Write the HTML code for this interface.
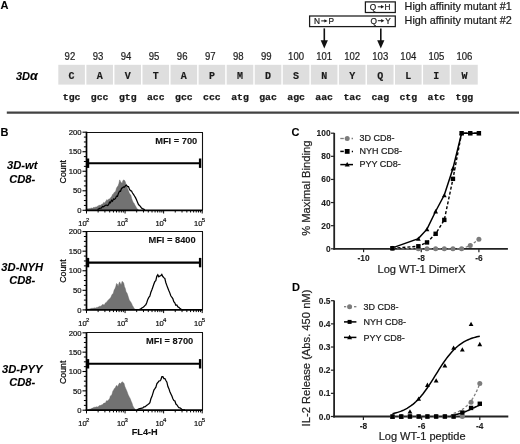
<!DOCTYPE html>
<html><head><meta charset="utf-8"><style>
html,body{margin:0;padding:0;background:#fff;}
body{width:520px;height:444px;overflow:hidden;font-family:"Liberation Sans", sans-serif;}
svg{display:block;filter:grayscale(1);}
</style></head><body>
<svg width="520" height="444" viewBox="0 0 520 444">
<rect width="520" height="444" fill="#fff"/>
<text x="0.60" y="9.30" font-size="11" font-weight="bold" font-style="normal" text-anchor="start" fill="#000" font-family='"Liberation Sans", sans-serif' stroke="#000" stroke-width="0.1" >A</text>
<rect x="365.4" y="1.9" width="29.9" height="10.6" fill="none" stroke="#1a1a1a" stroke-width="1.25"/>
<rect x="309.6" y="16.0" width="85.7" height="10.6" fill="none" stroke="#1a1a1a" stroke-width="1.25"/>
<text x="369.80" y="10.10" font-size="8.3" font-weight="normal" font-style="normal" text-anchor="start" fill="#1a1a1a" font-family='"Liberation Sans", sans-serif' stroke="#1a1a1a" stroke-width="0.22" >Q</text>
<line x1="377.80" y1="6.80" x2="381.60" y2="6.80" stroke="#1a1a1a" stroke-width="1.0" />
<path d="M381.00,5.10 L384.20,6.80 L381.00,8.50 Z" fill="#1a1a1a"/>
<text x="384.60" y="10.10" font-size="8.3" font-weight="normal" font-style="normal" text-anchor="start" fill="#1a1a1a" font-family='"Liberation Sans", sans-serif' stroke="#1a1a1a" stroke-width="0.22" >H</text>
<text x="314.00" y="24.20" font-size="8.3" font-weight="normal" font-style="normal" text-anchor="start" fill="#1a1a1a" font-family='"Liberation Sans", sans-serif' stroke="#1a1a1a" stroke-width="0.22" >N</text>
<line x1="321.20" y1="20.90" x2="325.00" y2="20.90" stroke="#1a1a1a" stroke-width="1.0" />
<path d="M324.40,19.20 L327.60,20.90 L324.40,22.60 Z" fill="#1a1a1a"/>
<text x="328.40" y="24.20" font-size="8.3" font-weight="normal" font-style="normal" text-anchor="start" fill="#1a1a1a" font-family='"Liberation Sans", sans-serif' stroke="#1a1a1a" stroke-width="0.22" >P</text>
<text x="370.40" y="24.00" font-size="8.3" font-weight="normal" font-style="normal" text-anchor="start" fill="#1a1a1a" font-family='"Liberation Sans", sans-serif' stroke="#1a1a1a" stroke-width="0.22" >Q</text>
<line x1="377.80" y1="20.70" x2="381.80" y2="20.70" stroke="#1a1a1a" stroke-width="1.0" />
<path d="M381.20,19.00 L384.40,20.70 L381.20,22.40 Z" fill="#1a1a1a"/>
<text x="385.30" y="24.00" font-size="8.3" font-weight="normal" font-style="normal" text-anchor="start" fill="#1a1a1a" font-family='"Liberation Sans", sans-serif' stroke="#1a1a1a" stroke-width="0.22" >Y</text>
<text x="404.60" y="10.10" font-size="10.8" font-weight="normal" font-style="normal" text-anchor="start" fill="#1a1a1a" font-family='"Liberation Sans", sans-serif' stroke="#1a1a1a" stroke-width="0.22" >High affinity mutant #1</text>
<text x="404.60" y="24.40" font-size="10.8" font-weight="normal" font-style="normal" text-anchor="start" fill="#1a1a1a" font-family='"Liberation Sans", sans-serif' stroke="#1a1a1a" stroke-width="0.22" >High affinity mutant #2</text>
<line x1="324.30" y1="28.40" x2="324.30" y2="42.00" stroke="#111" stroke-width="1.6" />
<path d="M320.70,40.2 L327.90,40.2 L324.30,48.4 Z" fill="#111"/>
<line x1="380.80" y1="28.40" x2="380.80" y2="42.00" stroke="#111" stroke-width="1.6" />
<path d="M377.20,40.2 L384.40,40.2 L380.80,48.4 Z" fill="#111"/>
<rect x="58.30" y="64.8" width="26.6" height="19.8" fill="#dedede"/>
<text x="0.00" y="0.00" font-size="10.4" font-weight="normal" font-style="normal" text-anchor="middle" fill="#1e1e1e" font-family='"Liberation Sans", sans-serif' stroke="#1e1e1e" stroke-width="0.22" transform="translate(69.90,59.8) scale(0.92,1.0)">92</text>
<text x="71.60" y="78.60" font-size="10" font-weight="bold" font-style="normal" text-anchor="middle" fill="#1a1a1a" font-family='"Liberation Mono", monospace' stroke="#1a1a1a" stroke-width="0.15" >C</text>
<text x="71.60" y="99.80" font-size="9.8" font-weight="bold" font-style="normal" text-anchor="middle" fill="#1a1a1a" font-family='"Liberation Mono", monospace' stroke="#1a1a1a" stroke-width="0.25" >tgc</text>
<rect x="86.36" y="64.8" width="26.6" height="19.8" fill="#dedede"/>
<text x="0.00" y="0.00" font-size="10.4" font-weight="normal" font-style="normal" text-anchor="middle" fill="#1e1e1e" font-family='"Liberation Sans", sans-serif' stroke="#1e1e1e" stroke-width="0.22" transform="translate(97.96,59.8) scale(0.92,1.0)">93</text>
<text x="99.66" y="78.60" font-size="10" font-weight="bold" font-style="normal" text-anchor="middle" fill="#1a1a1a" font-family='"Liberation Mono", monospace' stroke="#1a1a1a" stroke-width="0.15" >A</text>
<text x="99.66" y="99.80" font-size="9.8" font-weight="bold" font-style="normal" text-anchor="middle" fill="#1a1a1a" font-family='"Liberation Mono", monospace' stroke="#1a1a1a" stroke-width="0.25" >gcc</text>
<rect x="114.42" y="64.8" width="26.6" height="19.8" fill="#dedede"/>
<text x="0.00" y="0.00" font-size="10.4" font-weight="normal" font-style="normal" text-anchor="middle" fill="#1e1e1e" font-family='"Liberation Sans", sans-serif' stroke="#1e1e1e" stroke-width="0.22" transform="translate(126.02,59.8) scale(0.92,1.0)">94</text>
<text x="127.72" y="78.60" font-size="10" font-weight="bold" font-style="normal" text-anchor="middle" fill="#1a1a1a" font-family='"Liberation Mono", monospace' stroke="#1a1a1a" stroke-width="0.15" >V</text>
<text x="127.72" y="99.80" font-size="9.8" font-weight="bold" font-style="normal" text-anchor="middle" fill="#1a1a1a" font-family='"Liberation Mono", monospace' stroke="#1a1a1a" stroke-width="0.25" >gtg</text>
<rect x="142.48" y="64.8" width="26.6" height="19.8" fill="#dedede"/>
<text x="0.00" y="0.00" font-size="10.4" font-weight="normal" font-style="normal" text-anchor="middle" fill="#1e1e1e" font-family='"Liberation Sans", sans-serif' stroke="#1e1e1e" stroke-width="0.22" transform="translate(154.08,59.8) scale(0.92,1.0)">95</text>
<text x="155.78" y="78.60" font-size="10" font-weight="bold" font-style="normal" text-anchor="middle" fill="#1a1a1a" font-family='"Liberation Mono", monospace' stroke="#1a1a1a" stroke-width="0.15" >T</text>
<text x="155.78" y="99.80" font-size="9.8" font-weight="bold" font-style="normal" text-anchor="middle" fill="#1a1a1a" font-family='"Liberation Mono", monospace' stroke="#1a1a1a" stroke-width="0.25" >acc</text>
<rect x="170.54" y="64.8" width="26.6" height="19.8" fill="#dedede"/>
<text x="0.00" y="0.00" font-size="10.4" font-weight="normal" font-style="normal" text-anchor="middle" fill="#1e1e1e" font-family='"Liberation Sans", sans-serif' stroke="#1e1e1e" stroke-width="0.22" transform="translate(182.14,59.8) scale(0.92,1.0)">96</text>
<text x="183.84" y="78.60" font-size="10" font-weight="bold" font-style="normal" text-anchor="middle" fill="#1a1a1a" font-family='"Liberation Mono", monospace' stroke="#1a1a1a" stroke-width="0.15" >A</text>
<text x="183.84" y="99.80" font-size="9.8" font-weight="bold" font-style="normal" text-anchor="middle" fill="#1a1a1a" font-family='"Liberation Mono", monospace' stroke="#1a1a1a" stroke-width="0.25" >gcc</text>
<rect x="198.60" y="64.8" width="26.6" height="19.8" fill="#dedede"/>
<text x="0.00" y="0.00" font-size="10.4" font-weight="normal" font-style="normal" text-anchor="middle" fill="#1e1e1e" font-family='"Liberation Sans", sans-serif' stroke="#1e1e1e" stroke-width="0.22" transform="translate(210.20,59.8) scale(0.92,1.0)">97</text>
<text x="211.90" y="78.60" font-size="10" font-weight="bold" font-style="normal" text-anchor="middle" fill="#1a1a1a" font-family='"Liberation Mono", monospace' stroke="#1a1a1a" stroke-width="0.15" >P</text>
<text x="211.90" y="99.80" font-size="9.8" font-weight="bold" font-style="normal" text-anchor="middle" fill="#1a1a1a" font-family='"Liberation Mono", monospace' stroke="#1a1a1a" stroke-width="0.25" >ccc</text>
<rect x="226.66" y="64.8" width="26.6" height="19.8" fill="#dedede"/>
<text x="0.00" y="0.00" font-size="10.4" font-weight="normal" font-style="normal" text-anchor="middle" fill="#1e1e1e" font-family='"Liberation Sans", sans-serif' stroke="#1e1e1e" stroke-width="0.22" transform="translate(238.26,59.8) scale(0.92,1.0)">98</text>
<text x="239.96" y="78.60" font-size="10" font-weight="bold" font-style="normal" text-anchor="middle" fill="#1a1a1a" font-family='"Liberation Mono", monospace' stroke="#1a1a1a" stroke-width="0.15" >M</text>
<text x="239.96" y="99.80" font-size="9.8" font-weight="bold" font-style="normal" text-anchor="middle" fill="#1a1a1a" font-family='"Liberation Mono", monospace' stroke="#1a1a1a" stroke-width="0.25" >atg</text>
<rect x="254.72" y="64.8" width="26.6" height="19.8" fill="#dedede"/>
<text x="0.00" y="0.00" font-size="10.4" font-weight="normal" font-style="normal" text-anchor="middle" fill="#1e1e1e" font-family='"Liberation Sans", sans-serif' stroke="#1e1e1e" stroke-width="0.22" transform="translate(266.32,59.8) scale(0.92,1.0)">99</text>
<text x="268.02" y="78.60" font-size="10" font-weight="bold" font-style="normal" text-anchor="middle" fill="#1a1a1a" font-family='"Liberation Mono", monospace' stroke="#1a1a1a" stroke-width="0.15" >D</text>
<text x="268.02" y="99.80" font-size="9.8" font-weight="bold" font-style="normal" text-anchor="middle" fill="#1a1a1a" font-family='"Liberation Mono", monospace' stroke="#1a1a1a" stroke-width="0.25" >gac</text>
<rect x="282.78" y="64.8" width="26.6" height="19.8" fill="#dedede"/>
<text x="0.00" y="0.00" font-size="10.4" font-weight="normal" font-style="normal" text-anchor="middle" fill="#1e1e1e" font-family='"Liberation Sans", sans-serif' stroke="#1e1e1e" stroke-width="0.22" transform="translate(296.08,59.8) scale(0.92,1.0)">100</text>
<text x="296.08" y="78.60" font-size="10" font-weight="bold" font-style="normal" text-anchor="middle" fill="#1a1a1a" font-family='"Liberation Mono", monospace' stroke="#1a1a1a" stroke-width="0.15" >S</text>
<text x="296.08" y="99.80" font-size="9.8" font-weight="bold" font-style="normal" text-anchor="middle" fill="#1a1a1a" font-family='"Liberation Mono", monospace' stroke="#1a1a1a" stroke-width="0.25" >agc</text>
<rect x="310.84" y="64.8" width="26.6" height="19.8" fill="#dedede"/>
<text x="0.00" y="0.00" font-size="10.4" font-weight="normal" font-style="normal" text-anchor="middle" fill="#1e1e1e" font-family='"Liberation Sans", sans-serif' stroke="#1e1e1e" stroke-width="0.22" transform="translate(324.14,59.8) scale(0.92,1.0)">101</text>
<text x="324.14" y="78.60" font-size="10" font-weight="bold" font-style="normal" text-anchor="middle" fill="#1a1a1a" font-family='"Liberation Mono", monospace' stroke="#1a1a1a" stroke-width="0.15" >N</text>
<text x="324.14" y="99.80" font-size="9.8" font-weight="bold" font-style="normal" text-anchor="middle" fill="#1a1a1a" font-family='"Liberation Mono", monospace' stroke="#1a1a1a" stroke-width="0.25" >aac</text>
<rect x="338.90" y="64.8" width="26.6" height="19.8" fill="#dedede"/>
<text x="0.00" y="0.00" font-size="10.4" font-weight="normal" font-style="normal" text-anchor="middle" fill="#1e1e1e" font-family='"Liberation Sans", sans-serif' stroke="#1e1e1e" stroke-width="0.22" transform="translate(352.20,59.8) scale(0.92,1.0)">102</text>
<text x="352.20" y="78.60" font-size="10" font-weight="bold" font-style="normal" text-anchor="middle" fill="#1a1a1a" font-family='"Liberation Mono", monospace' stroke="#1a1a1a" stroke-width="0.15" >Y</text>
<text x="352.20" y="99.80" font-size="9.8" font-weight="bold" font-style="normal" text-anchor="middle" fill="#1a1a1a" font-family='"Liberation Mono", monospace' stroke="#1a1a1a" stroke-width="0.25" >tac</text>
<rect x="366.96" y="64.8" width="26.6" height="19.8" fill="#dedede"/>
<text x="0.00" y="0.00" font-size="10.4" font-weight="normal" font-style="normal" text-anchor="middle" fill="#1e1e1e" font-family='"Liberation Sans", sans-serif' stroke="#1e1e1e" stroke-width="0.22" transform="translate(380.26,59.8) scale(0.92,1.0)">103</text>
<text x="380.26" y="78.60" font-size="10" font-weight="bold" font-style="normal" text-anchor="middle" fill="#1a1a1a" font-family='"Liberation Mono", monospace' stroke="#1a1a1a" stroke-width="0.15" >Q</text>
<text x="380.26" y="99.80" font-size="9.8" font-weight="bold" font-style="normal" text-anchor="middle" fill="#1a1a1a" font-family='"Liberation Mono", monospace' stroke="#1a1a1a" stroke-width="0.25" >cag</text>
<rect x="395.02" y="64.8" width="26.6" height="19.8" fill="#dedede"/>
<text x="0.00" y="0.00" font-size="10.4" font-weight="normal" font-style="normal" text-anchor="middle" fill="#1e1e1e" font-family='"Liberation Sans", sans-serif' stroke="#1e1e1e" stroke-width="0.22" transform="translate(408.32,59.8) scale(0.92,1.0)">104</text>
<text x="408.32" y="78.60" font-size="10" font-weight="bold" font-style="normal" text-anchor="middle" fill="#1a1a1a" font-family='"Liberation Mono", monospace' stroke="#1a1a1a" stroke-width="0.15" >L</text>
<text x="408.32" y="99.80" font-size="9.8" font-weight="bold" font-style="normal" text-anchor="middle" fill="#1a1a1a" font-family='"Liberation Mono", monospace' stroke="#1a1a1a" stroke-width="0.25" >ctg</text>
<rect x="423.08" y="64.8" width="26.6" height="19.8" fill="#dedede"/>
<text x="0.00" y="0.00" font-size="10.4" font-weight="normal" font-style="normal" text-anchor="middle" fill="#1e1e1e" font-family='"Liberation Sans", sans-serif' stroke="#1e1e1e" stroke-width="0.22" transform="translate(436.38,59.8) scale(0.92,1.0)">105</text>
<text x="436.38" y="78.60" font-size="10" font-weight="bold" font-style="normal" text-anchor="middle" fill="#1a1a1a" font-family='"Liberation Mono", monospace' stroke="#1a1a1a" stroke-width="0.15" >I</text>
<text x="436.38" y="99.80" font-size="9.8" font-weight="bold" font-style="normal" text-anchor="middle" fill="#1a1a1a" font-family='"Liberation Mono", monospace' stroke="#1a1a1a" stroke-width="0.25" >atc</text>
<rect x="451.14" y="64.8" width="26.6" height="19.8" fill="#dedede"/>
<text x="0.00" y="0.00" font-size="10.4" font-weight="normal" font-style="normal" text-anchor="middle" fill="#1e1e1e" font-family='"Liberation Sans", sans-serif' stroke="#1e1e1e" stroke-width="0.22" transform="translate(464.44,59.8) scale(0.92,1.0)">106</text>
<text x="464.44" y="78.60" font-size="10" font-weight="bold" font-style="normal" text-anchor="middle" fill="#1a1a1a" font-family='"Liberation Mono", monospace' stroke="#1a1a1a" stroke-width="0.15" >W</text>
<text x="464.44" y="99.80" font-size="9.8" font-weight="bold" font-style="normal" text-anchor="middle" fill="#1a1a1a" font-family='"Liberation Mono", monospace' stroke="#1a1a1a" stroke-width="0.25" >tgg</text>
<text x="16.00" y="79.60" font-size="11" font-weight="bold" font-style="italic" text-anchor="start" fill="#000" font-family='"Liberation Sans", sans-serif' stroke="#000" stroke-width="0.1" >3D<tspan font-size="12.5">α</tspan></text>
<line x1="6.80" y1="112.60" x2="519.00" y2="112.60" stroke="#424242" stroke-width="2.3" />
<text x="0.40" y="136.20" font-size="11" font-weight="bold" font-style="normal" text-anchor="start" fill="#000" font-family='"Liberation Sans", sans-serif' stroke="#000" stroke-width="0.1" >B</text>
<text x="22.20" y="169.40" font-size="11.2" font-weight="bold" font-style="italic" text-anchor="middle" fill="#000" font-family='"Liberation Sans", sans-serif' stroke="#000" stroke-width="0.1" >3D-wt</text>
<text x="22.20" y="182.90" font-size="11.2" font-weight="bold" font-style="italic" text-anchor="middle" fill="#000" font-family='"Liberation Sans", sans-serif' stroke="#000" stroke-width="0.1" >CD8-</text>
<text x="0.00" y="0.00" font-size="8.8" font-weight="normal" font-style="normal" text-anchor="middle" fill="#000" font-family='"Liberation Sans", sans-serif' stroke="#000" stroke-width="0.22" transform="translate(66.3,171.70) rotate(-90)">Count</text>
<path d="M86.90,208.81 L87.70,208.81 L88.50,208.63 L89.30,208.62 L90.10,208.52 L90.90,208.14 L91.70,207.99 L92.50,208.22 L93.30,207.60 L94.10,207.29 L94.90,207.58 L95.70,206.90 L96.50,206.95 L97.30,206.35 L98.10,206.14 L98.90,205.17 L99.70,205.35 L100.50,205.27 L101.30,204.39 L102.10,204.33 L102.90,203.83 L103.70,202.34 L104.50,202.99 L105.30,202.02 L106.10,200.78 L106.90,199.59 L107.70,200.61 L108.50,199.17 L109.30,199.01 L110.10,198.62 L110.90,197.22 L111.70,196.56 L112.50,194.44 L113.30,194.18 L114.10,192.40 L114.90,192.31 L115.70,190.93 L116.50,188.08 L117.30,186.86 L118.10,185.73 L118.90,183.38 L119.70,179.87 L120.50,181.45 L121.30,182.85 L122.10,183.17 L122.90,180.57 L123.70,179.95 L124.50,180.35 L125.30,181.80 L126.10,184.65 L126.90,186.66 L127.70,189.08 L128.50,190.86 L129.30,193.05 L130.10,194.33 L130.90,195.25 L131.70,198.58 L132.50,200.73 L133.30,202.46 L134.10,203.36 L134.90,205.11 L135.70,206.13 L136.50,207.99 L137.30,208.71 L138.10,209.57 L138.75,210.30 L138.75,210.30 L86.90,210.30 Z" fill="#727272" stroke="#666" stroke-width="0.4"/>
<path d="M97.50,209.60 L98.50,208.97 L99.50,208.27 L100.50,208.25 L101.50,207.90 L102.50,206.45 L103.50,206.89 L104.50,206.02 L105.50,205.24 L106.50,205.05 L107.50,205.46 L108.50,204.87 L109.50,202.19 L110.50,202.66 L111.50,200.30 L112.50,201.17 L113.50,199.04 L114.50,199.35 L115.50,198.49 L116.50,196.13 L117.50,196.30 L118.50,193.17 L119.50,191.23 L120.50,191.26 L121.50,188.47 L122.50,187.66 L123.50,186.97 L124.50,187.05 L125.50,185.70 L126.50,185.01 L127.50,186.56 L128.50,186.52 L129.50,189.36 L130.50,190.65 L131.50,191.04 L132.50,193.00 L133.50,194.41 L134.50,195.99 L135.50,197.63 L136.50,199.79 L137.50,202.21 L138.50,204.59 L139.50,205.39 L140.50,206.67 L141.50,207.93 L142.50,208.62 L143.50,209.14 L144.50,209.67 L145.00,209.90" fill="none" stroke="#000" stroke-width="1.25"/>
<line x1="86.50" y1="132.50" x2="203.00" y2="132.50" stroke="#111" stroke-width="1.1" />
<line x1="202.50" y1="132.50" x2="202.50" y2="210.30" stroke="#111" stroke-width="1.1" />
<line x1="86.50" y1="131.70" x2="86.50" y2="211.00" stroke="#000" stroke-width="1.7" />
<line x1="85.70" y1="210.30" x2="202.70" y2="210.30" stroke="#000" stroke-width="1.7" />
<line x1="82.50" y1="210.30" x2="86.50" y2="210.30" stroke="#000" stroke-width="1.1" />
<text x="81.50" y="213.00" font-size="7.7" font-weight="normal" font-style="normal" text-anchor="end" fill="#111" font-family='"Liberation Sans", sans-serif' stroke="#111" stroke-width="0.22" >0</text>
<line x1="83.90" y1="205.42" x2="86.50" y2="205.42" stroke="#000" stroke-width="1.0" />
<line x1="83.90" y1="200.54" x2="86.50" y2="200.54" stroke="#000" stroke-width="1.0" />
<line x1="83.90" y1="195.66" x2="86.50" y2="195.66" stroke="#000" stroke-width="1.0" />
<line x1="82.50" y1="190.78" x2="86.50" y2="190.78" stroke="#000" stroke-width="1.1" />
<text x="81.50" y="193.47" font-size="7.7" font-weight="normal" font-style="normal" text-anchor="end" fill="#111" font-family='"Liberation Sans", sans-serif' stroke="#111" stroke-width="0.22" >50</text>
<line x1="83.90" y1="185.89" x2="86.50" y2="185.89" stroke="#000" stroke-width="1.0" />
<line x1="83.90" y1="181.01" x2="86.50" y2="181.01" stroke="#000" stroke-width="1.0" />
<line x1="83.90" y1="176.13" x2="86.50" y2="176.13" stroke="#000" stroke-width="1.0" />
<line x1="82.50" y1="171.25" x2="86.50" y2="171.25" stroke="#000" stroke-width="1.1" />
<text x="81.50" y="173.95" font-size="7.7" font-weight="normal" font-style="normal" text-anchor="end" fill="#111" font-family='"Liberation Sans", sans-serif' stroke="#111" stroke-width="0.22" >100</text>
<line x1="83.90" y1="166.37" x2="86.50" y2="166.37" stroke="#000" stroke-width="1.0" />
<line x1="83.90" y1="161.49" x2="86.50" y2="161.49" stroke="#000" stroke-width="1.0" />
<line x1="83.90" y1="156.61" x2="86.50" y2="156.61" stroke="#000" stroke-width="1.0" />
<line x1="82.50" y1="151.72" x2="86.50" y2="151.72" stroke="#000" stroke-width="1.1" />
<text x="81.50" y="154.42" font-size="7.7" font-weight="normal" font-style="normal" text-anchor="end" fill="#111" font-family='"Liberation Sans", sans-serif' stroke="#111" stroke-width="0.22" >150</text>
<line x1="83.90" y1="146.84" x2="86.50" y2="146.84" stroke="#000" stroke-width="1.0" />
<line x1="83.90" y1="141.96" x2="86.50" y2="141.96" stroke="#000" stroke-width="1.0" />
<line x1="83.90" y1="137.08" x2="86.50" y2="137.08" stroke="#000" stroke-width="1.0" />
<line x1="82.50" y1="132.20" x2="86.50" y2="132.20" stroke="#000" stroke-width="1.1" />
<text x="81.50" y="134.90" font-size="7.7" font-weight="normal" font-style="normal" text-anchor="end" fill="#111" font-family='"Liberation Sans", sans-serif' stroke="#111" stroke-width="0.22" >200</text>
<line x1="86.50" y1="210.30" x2="86.50" y2="213.50" stroke="#000" stroke-width="1.0" />
<line x1="98.11" y1="210.30" x2="98.11" y2="212.50" stroke="#000" stroke-width="1.0" />
<line x1="104.90" y1="210.30" x2="104.90" y2="212.50" stroke="#000" stroke-width="1.0" />
<line x1="109.72" y1="210.30" x2="109.72" y2="212.50" stroke="#000" stroke-width="1.0" />
<line x1="113.46" y1="210.30" x2="113.46" y2="212.50" stroke="#000" stroke-width="1.0" />
<line x1="116.51" y1="210.30" x2="116.51" y2="212.50" stroke="#000" stroke-width="1.0" />
<line x1="119.09" y1="210.30" x2="119.09" y2="212.50" stroke="#000" stroke-width="1.0" />
<line x1="121.33" y1="210.30" x2="121.33" y2="212.50" stroke="#000" stroke-width="1.0" />
<line x1="123.30" y1="210.30" x2="123.30" y2="212.50" stroke="#000" stroke-width="1.0" />
<line x1="125.07" y1="210.30" x2="125.07" y2="213.50" stroke="#000" stroke-width="1.0" />
<line x1="136.68" y1="210.30" x2="136.68" y2="212.50" stroke="#000" stroke-width="1.0" />
<line x1="143.47" y1="210.30" x2="143.47" y2="212.50" stroke="#000" stroke-width="1.0" />
<line x1="148.29" y1="210.30" x2="148.29" y2="212.50" stroke="#000" stroke-width="1.0" />
<line x1="152.02" y1="210.30" x2="152.02" y2="212.50" stroke="#000" stroke-width="1.0" />
<line x1="155.08" y1="210.30" x2="155.08" y2="212.50" stroke="#000" stroke-width="1.0" />
<line x1="157.66" y1="210.30" x2="157.66" y2="212.50" stroke="#000" stroke-width="1.0" />
<line x1="159.90" y1="210.30" x2="159.90" y2="212.50" stroke="#000" stroke-width="1.0" />
<line x1="161.87" y1="210.30" x2="161.87" y2="212.50" stroke="#000" stroke-width="1.0" />
<line x1="163.63" y1="210.30" x2="163.63" y2="213.50" stroke="#000" stroke-width="1.0" />
<line x1="175.24" y1="210.30" x2="175.24" y2="212.50" stroke="#000" stroke-width="1.0" />
<line x1="182.03" y1="210.30" x2="182.03" y2="212.50" stroke="#000" stroke-width="1.0" />
<line x1="186.85" y1="210.30" x2="186.85" y2="212.50" stroke="#000" stroke-width="1.0" />
<line x1="190.59" y1="210.30" x2="190.59" y2="212.50" stroke="#000" stroke-width="1.0" />
<line x1="193.64" y1="210.30" x2="193.64" y2="212.50" stroke="#000" stroke-width="1.0" />
<line x1="196.23" y1="210.30" x2="196.23" y2="212.50" stroke="#000" stroke-width="1.0" />
<line x1="198.46" y1="210.30" x2="198.46" y2="212.50" stroke="#000" stroke-width="1.0" />
<line x1="200.44" y1="210.30" x2="200.44" y2="212.50" stroke="#000" stroke-width="1.0" />
<line x1="202.20" y1="210.30" x2="202.20" y2="213.50" stroke="#000" stroke-width="1.0" />
<text x="82.50" y="225.90" font-size="7.5" font-weight="normal" font-style="normal" text-anchor="middle" fill="#111" font-family='"Liberation Sans", sans-serif' stroke="#111" stroke-width="0.22" >10</text>
<text x="87.60" y="222.30" font-size="6.0" font-weight="normal" font-style="normal" text-anchor="middle" fill="#111" font-family='"Liberation Sans", sans-serif' stroke="#111" stroke-width="0.22" >2</text>
<text x="121.07" y="225.90" font-size="7.5" font-weight="normal" font-style="normal" text-anchor="middle" fill="#111" font-family='"Liberation Sans", sans-serif' stroke="#111" stroke-width="0.22" >10</text>
<text x="126.17" y="222.30" font-size="6.0" font-weight="normal" font-style="normal" text-anchor="middle" fill="#111" font-family='"Liberation Sans", sans-serif' stroke="#111" stroke-width="0.22" >3</text>
<text x="159.63" y="225.90" font-size="7.5" font-weight="normal" font-style="normal" text-anchor="middle" fill="#111" font-family='"Liberation Sans", sans-serif' stroke="#111" stroke-width="0.22" >10</text>
<text x="164.73" y="222.30" font-size="6.0" font-weight="normal" font-style="normal" text-anchor="middle" fill="#111" font-family='"Liberation Sans", sans-serif' stroke="#111" stroke-width="0.22" >4</text>
<text x="198.20" y="225.90" font-size="7.5" font-weight="normal" font-style="normal" text-anchor="middle" fill="#111" font-family='"Liberation Sans", sans-serif' stroke="#111" stroke-width="0.22" >10</text>
<text x="203.30" y="222.30" font-size="6.0" font-weight="normal" font-style="normal" text-anchor="middle" fill="#111" font-family='"Liberation Sans", sans-serif' stroke="#111" stroke-width="0.22" >5</text>
<line x1="87.70" y1="163.20" x2="200.20" y2="163.20" stroke="#000" stroke-width="2.1" />
<line x1="88.00" y1="158.50" x2="88.00" y2="167.90" stroke="#000" stroke-width="2.4" />
<line x1="200.10" y1="158.50" x2="200.10" y2="167.90" stroke="#000" stroke-width="2.4" />
<text x="197.30" y="143.50" font-size="9.3" font-weight="bold" font-style="normal" text-anchor="end" fill="#111" font-family='"Liberation Sans", sans-serif' stroke="#111" stroke-width="0.1" >MFI = 700</text>
<text x="22.20" y="270.90" font-size="11.2" font-weight="bold" font-style="italic" text-anchor="middle" fill="#000" font-family='"Liberation Sans", sans-serif' stroke="#000" stroke-width="0.1" >3D-NYH</text>
<text x="22.20" y="284.30" font-size="11.2" font-weight="bold" font-style="italic" text-anchor="middle" fill="#000" font-family='"Liberation Sans", sans-serif' stroke="#000" stroke-width="0.1" >CD8-</text>
<text x="0.00" y="0.00" font-size="8.8" font-weight="normal" font-style="normal" text-anchor="middle" fill="#000" font-family='"Liberation Sans", sans-serif' stroke="#000" stroke-width="0.22" transform="translate(66.3,271.10) rotate(-90)">Count</text>
<path d="M86.90,309.20 L87.70,309.07 L88.50,308.95 L89.30,308.95 L90.10,308.71 L90.90,308.59 L91.70,308.27 L92.50,308.29 L93.30,308.23 L94.10,307.86 L94.90,308.01 L95.70,307.89 L96.50,307.46 L97.30,307.44 L98.10,306.99 L98.90,306.82 L99.70,306.20 L100.50,306.19 L101.30,305.90 L102.10,304.75 L102.90,304.41 L103.70,304.85 L104.50,304.78 L105.30,302.91 L106.10,302.45 L106.90,301.93 L107.70,300.60 L108.50,299.90 L109.30,299.01 L110.10,298.26 L110.90,297.28 L111.70,295.26 L112.50,293.98 L113.30,293.34 L114.10,290.06 L114.90,288.78 L115.70,286.74 L116.50,283.51 L117.30,283.99 L118.10,286.38 L118.90,283.40 L119.70,281.87 L120.50,283.91 L121.30,284.50 L122.10,281.25 L122.90,282.06 L123.70,283.02 L124.50,286.65 L125.30,288.49 L126.10,291.95 L126.90,292.72 L127.70,295.02 L128.50,297.62 L129.30,300.05 L130.10,301.16 L130.90,302.26 L131.70,303.64 L132.50,305.65 L133.30,306.83 L134.10,308.49 L134.90,308.97 L135.70,309.57 L136.00,309.80 L136.00,309.90 L86.90,309.90 Z" fill="#727272" stroke="#666" stroke-width="0.4"/>
<path d="M138.80,309.80 L139.80,309.26 L140.80,308.85 L141.80,308.01 L142.80,307.42 L143.80,306.83 L144.80,305.59 L145.80,304.83 L146.80,302.42 L147.80,299.40 L148.80,297.40 L149.80,296.29 L150.80,292.51 L151.80,290.02 L152.80,287.24 L153.80,284.28 L154.80,281.66 L155.80,280.64 L156.80,276.31 L157.80,274.84 L158.80,276.76 L159.80,275.97 L160.80,275.60 L161.80,274.46 L162.80,276.52 L163.80,277.61 L164.80,278.43 L165.80,282.45 L166.80,285.37 L167.80,287.90 L168.80,290.50 L169.80,292.87 L170.80,295.75 L171.80,297.24 L172.80,298.62 L173.80,301.76 L174.80,302.87 L175.80,305.25 L176.80,304.92 L177.80,306.85 L178.80,307.38 L179.80,308.30 L180.80,309.00 L181.80,309.33 L182.80,309.54 L183.80,309.76 L184.00,309.80" fill="none" stroke="#000" stroke-width="1.25"/>
<line x1="86.50" y1="231.50" x2="203.00" y2="231.50" stroke="#111" stroke-width="1.1" />
<line x1="202.50" y1="231.50" x2="202.50" y2="309.90" stroke="#111" stroke-width="1.1" />
<line x1="86.50" y1="231.10" x2="86.50" y2="310.60" stroke="#000" stroke-width="1.7" />
<line x1="85.70" y1="309.90" x2="202.70" y2="309.90" stroke="#000" stroke-width="1.7" />
<line x1="82.50" y1="309.90" x2="86.50" y2="309.90" stroke="#000" stroke-width="1.1" />
<text x="81.50" y="312.60" font-size="7.7" font-weight="normal" font-style="normal" text-anchor="end" fill="#111" font-family='"Liberation Sans", sans-serif' stroke="#111" stroke-width="0.22" >0</text>
<line x1="83.90" y1="305.01" x2="86.50" y2="305.01" stroke="#000" stroke-width="1.0" />
<line x1="83.90" y1="300.11" x2="86.50" y2="300.11" stroke="#000" stroke-width="1.0" />
<line x1="83.90" y1="295.22" x2="86.50" y2="295.22" stroke="#000" stroke-width="1.0" />
<line x1="82.50" y1="290.32" x2="86.50" y2="290.32" stroke="#000" stroke-width="1.1" />
<text x="81.50" y="293.02" font-size="7.7" font-weight="normal" font-style="normal" text-anchor="end" fill="#111" font-family='"Liberation Sans", sans-serif' stroke="#111" stroke-width="0.22" >50</text>
<line x1="83.90" y1="285.43" x2="86.50" y2="285.43" stroke="#000" stroke-width="1.0" />
<line x1="83.90" y1="280.54" x2="86.50" y2="280.54" stroke="#000" stroke-width="1.0" />
<line x1="83.90" y1="275.64" x2="86.50" y2="275.64" stroke="#000" stroke-width="1.0" />
<line x1="82.50" y1="270.75" x2="86.50" y2="270.75" stroke="#000" stroke-width="1.1" />
<text x="81.50" y="273.45" font-size="7.7" font-weight="normal" font-style="normal" text-anchor="end" fill="#111" font-family='"Liberation Sans", sans-serif' stroke="#111" stroke-width="0.22" >100</text>
<line x1="83.90" y1="265.86" x2="86.50" y2="265.86" stroke="#000" stroke-width="1.0" />
<line x1="83.90" y1="260.96" x2="86.50" y2="260.96" stroke="#000" stroke-width="1.0" />
<line x1="83.90" y1="256.07" x2="86.50" y2="256.07" stroke="#000" stroke-width="1.0" />
<line x1="82.50" y1="251.17" x2="86.50" y2="251.17" stroke="#000" stroke-width="1.1" />
<text x="81.50" y="253.87" font-size="7.7" font-weight="normal" font-style="normal" text-anchor="end" fill="#111" font-family='"Liberation Sans", sans-serif' stroke="#111" stroke-width="0.22" >150</text>
<line x1="83.90" y1="246.28" x2="86.50" y2="246.28" stroke="#000" stroke-width="1.0" />
<line x1="83.90" y1="241.39" x2="86.50" y2="241.39" stroke="#000" stroke-width="1.0" />
<line x1="83.90" y1="236.49" x2="86.50" y2="236.49" stroke="#000" stroke-width="1.0" />
<line x1="82.50" y1="231.60" x2="86.50" y2="231.60" stroke="#000" stroke-width="1.1" />
<text x="81.50" y="234.30" font-size="7.7" font-weight="normal" font-style="normal" text-anchor="end" fill="#111" font-family='"Liberation Sans", sans-serif' stroke="#111" stroke-width="0.22" >200</text>
<line x1="86.50" y1="309.90" x2="86.50" y2="313.10" stroke="#000" stroke-width="1.0" />
<line x1="98.11" y1="309.90" x2="98.11" y2="312.10" stroke="#000" stroke-width="1.0" />
<line x1="104.90" y1="309.90" x2="104.90" y2="312.10" stroke="#000" stroke-width="1.0" />
<line x1="109.72" y1="309.90" x2="109.72" y2="312.10" stroke="#000" stroke-width="1.0" />
<line x1="113.46" y1="309.90" x2="113.46" y2="312.10" stroke="#000" stroke-width="1.0" />
<line x1="116.51" y1="309.90" x2="116.51" y2="312.10" stroke="#000" stroke-width="1.0" />
<line x1="119.09" y1="309.90" x2="119.09" y2="312.10" stroke="#000" stroke-width="1.0" />
<line x1="121.33" y1="309.90" x2="121.33" y2="312.10" stroke="#000" stroke-width="1.0" />
<line x1="123.30" y1="309.90" x2="123.30" y2="312.10" stroke="#000" stroke-width="1.0" />
<line x1="125.07" y1="309.90" x2="125.07" y2="313.10" stroke="#000" stroke-width="1.0" />
<line x1="136.68" y1="309.90" x2="136.68" y2="312.10" stroke="#000" stroke-width="1.0" />
<line x1="143.47" y1="309.90" x2="143.47" y2="312.10" stroke="#000" stroke-width="1.0" />
<line x1="148.29" y1="309.90" x2="148.29" y2="312.10" stroke="#000" stroke-width="1.0" />
<line x1="152.02" y1="309.90" x2="152.02" y2="312.10" stroke="#000" stroke-width="1.0" />
<line x1="155.08" y1="309.90" x2="155.08" y2="312.10" stroke="#000" stroke-width="1.0" />
<line x1="157.66" y1="309.90" x2="157.66" y2="312.10" stroke="#000" stroke-width="1.0" />
<line x1="159.90" y1="309.90" x2="159.90" y2="312.10" stroke="#000" stroke-width="1.0" />
<line x1="161.87" y1="309.90" x2="161.87" y2="312.10" stroke="#000" stroke-width="1.0" />
<line x1="163.63" y1="309.90" x2="163.63" y2="313.10" stroke="#000" stroke-width="1.0" />
<line x1="175.24" y1="309.90" x2="175.24" y2="312.10" stroke="#000" stroke-width="1.0" />
<line x1="182.03" y1="309.90" x2="182.03" y2="312.10" stroke="#000" stroke-width="1.0" />
<line x1="186.85" y1="309.90" x2="186.85" y2="312.10" stroke="#000" stroke-width="1.0" />
<line x1="190.59" y1="309.90" x2="190.59" y2="312.10" stroke="#000" stroke-width="1.0" />
<line x1="193.64" y1="309.90" x2="193.64" y2="312.10" stroke="#000" stroke-width="1.0" />
<line x1="196.23" y1="309.90" x2="196.23" y2="312.10" stroke="#000" stroke-width="1.0" />
<line x1="198.46" y1="309.90" x2="198.46" y2="312.10" stroke="#000" stroke-width="1.0" />
<line x1="200.44" y1="309.90" x2="200.44" y2="312.10" stroke="#000" stroke-width="1.0" />
<line x1="202.20" y1="309.90" x2="202.20" y2="313.10" stroke="#000" stroke-width="1.0" />
<text x="82.50" y="325.50" font-size="7.5" font-weight="normal" font-style="normal" text-anchor="middle" fill="#111" font-family='"Liberation Sans", sans-serif' stroke="#111" stroke-width="0.22" >10</text>
<text x="87.60" y="321.90" font-size="6.0" font-weight="normal" font-style="normal" text-anchor="middle" fill="#111" font-family='"Liberation Sans", sans-serif' stroke="#111" stroke-width="0.22" >2</text>
<text x="121.07" y="325.50" font-size="7.5" font-weight="normal" font-style="normal" text-anchor="middle" fill="#111" font-family='"Liberation Sans", sans-serif' stroke="#111" stroke-width="0.22" >10</text>
<text x="126.17" y="321.90" font-size="6.0" font-weight="normal" font-style="normal" text-anchor="middle" fill="#111" font-family='"Liberation Sans", sans-serif' stroke="#111" stroke-width="0.22" >3</text>
<text x="159.63" y="325.50" font-size="7.5" font-weight="normal" font-style="normal" text-anchor="middle" fill="#111" font-family='"Liberation Sans", sans-serif' stroke="#111" stroke-width="0.22" >10</text>
<text x="164.73" y="321.90" font-size="6.0" font-weight="normal" font-style="normal" text-anchor="middle" fill="#111" font-family='"Liberation Sans", sans-serif' stroke="#111" stroke-width="0.22" >4</text>
<text x="198.20" y="325.50" font-size="7.5" font-weight="normal" font-style="normal" text-anchor="middle" fill="#111" font-family='"Liberation Sans", sans-serif' stroke="#111" stroke-width="0.22" >10</text>
<text x="203.30" y="321.90" font-size="6.0" font-weight="normal" font-style="normal" text-anchor="middle" fill="#111" font-family='"Liberation Sans", sans-serif' stroke="#111" stroke-width="0.22" >5</text>
<line x1="87.70" y1="262.60" x2="200.20" y2="262.60" stroke="#000" stroke-width="2.1" />
<line x1="88.00" y1="257.90" x2="88.00" y2="267.30" stroke="#000" stroke-width="2.4" />
<line x1="200.10" y1="257.90" x2="200.10" y2="267.30" stroke="#000" stroke-width="2.4" />
<text x="195.70" y="242.90" font-size="9.3" font-weight="bold" font-style="normal" text-anchor="end" fill="#111" font-family='"Liberation Sans", sans-serif' stroke="#111" stroke-width="0.1" >MFI = 8400</text>
<text x="22.20" y="372.50" font-size="11.2" font-weight="bold" font-style="italic" text-anchor="middle" fill="#000" font-family='"Liberation Sans", sans-serif' stroke="#000" stroke-width="0.1" >3D-PYY</text>
<text x="22.20" y="385.80" font-size="11.2" font-weight="bold" font-style="italic" text-anchor="middle" fill="#000" font-family='"Liberation Sans", sans-serif' stroke="#000" stroke-width="0.1" >CD8-</text>
<text x="0.00" y="0.00" font-size="8.8" font-weight="normal" font-style="normal" text-anchor="middle" fill="#000" font-family='"Liberation Sans", sans-serif' stroke="#000" stroke-width="0.22" transform="translate(66.3,372.30) rotate(-90)">Count</text>
<path d="M88.00,409.80 L88.80,409.51 L89.60,409.23 L90.40,409.07 L91.20,408.67 L92.00,408.08 L92.80,408.12 L93.60,407.45 L94.40,407.25 L95.20,407.30 L96.00,406.99 L96.80,406.68 L97.60,406.94 L98.40,406.44 L99.20,405.79 L100.00,405.28 L100.80,405.62 L101.60,404.75 L102.40,404.79 L103.20,403.76 L104.00,403.10 L104.80,402.96 L105.60,402.73 L106.40,400.64 L107.20,401.08 L108.00,400.54 L108.80,399.51 L109.60,398.75 L110.40,395.90 L111.20,395.53 L112.00,394.37 L112.80,391.13 L113.60,389.95 L114.40,388.54 L115.20,387.74 L116.00,386.20 L116.80,385.28 L117.60,387.00 L118.40,385.08 L119.20,383.33 L120.00,383.04 L120.80,384.01 L121.60,382.30 L122.40,381.66 L123.20,382.79 L124.00,383.17 L124.80,386.35 L125.60,388.18 L126.40,389.99 L127.20,391.88 L128.00,394.28 L128.80,395.97 L129.60,397.41 L130.40,399.04 L131.20,401.28 L132.00,402.97 L132.80,405.63 L133.60,407.23 L134.40,408.22 L135.20,409.50 L135.40,409.80 L135.40,410.20 L88.00,410.20 Z" fill="#727272" stroke="#666" stroke-width="0.4"/>
<path d="M136.90,409.80 L137.90,409.44 L138.90,408.92 L139.90,408.56 L140.90,408.28 L141.90,408.06 L142.90,407.83 L143.90,406.89 L144.90,406.82 L145.90,406.05 L146.90,405.20 L147.90,404.52 L148.90,403.75 L149.90,402.69 L150.90,398.82 L151.90,396.61 L152.90,393.35 L153.90,390.13 L154.90,388.71 L155.90,387.15 L156.90,383.56 L157.90,382.50 L158.90,381.01 L159.90,380.81 L160.90,379.57 L161.90,376.69 L162.90,376.63 L163.90,378.54 L164.90,378.58 L165.90,380.56 L166.90,382.20 L167.90,386.52 L168.90,388.65 L169.90,391.75 L170.90,393.96 L171.90,396.10 L172.90,398.73 L173.90,400.47 L174.90,401.04 L175.90,404.01 L176.90,404.85 L177.90,406.31 L178.90,407.65 L179.90,407.77 L180.90,408.59 L181.90,409.46 L182.90,409.68 L183.90,409.79 L184.90,409.89 L185.00,409.90" fill="none" stroke="#000" stroke-width="1.25"/>
<line x1="86.50" y1="332.50" x2="203.00" y2="332.50" stroke="#111" stroke-width="1.1" />
<line x1="202.50" y1="332.50" x2="202.50" y2="410.20" stroke="#111" stroke-width="1.1" />
<line x1="86.50" y1="332.30" x2="86.50" y2="410.90" stroke="#000" stroke-width="1.7" />
<line x1="85.70" y1="410.20" x2="202.70" y2="410.20" stroke="#000" stroke-width="1.7" />
<line x1="82.50" y1="410.20" x2="86.50" y2="410.20" stroke="#000" stroke-width="1.1" />
<text x="81.50" y="412.90" font-size="7.7" font-weight="normal" font-style="normal" text-anchor="end" fill="#111" font-family='"Liberation Sans", sans-serif' stroke="#111" stroke-width="0.22" >0</text>
<line x1="83.90" y1="405.36" x2="86.50" y2="405.36" stroke="#000" stroke-width="1.0" />
<line x1="83.90" y1="400.52" x2="86.50" y2="400.52" stroke="#000" stroke-width="1.0" />
<line x1="83.90" y1="395.69" x2="86.50" y2="395.69" stroke="#000" stroke-width="1.0" />
<line x1="82.50" y1="390.85" x2="86.50" y2="390.85" stroke="#000" stroke-width="1.1" />
<text x="81.50" y="393.55" font-size="7.7" font-weight="normal" font-style="normal" text-anchor="end" fill="#111" font-family='"Liberation Sans", sans-serif' stroke="#111" stroke-width="0.22" >50</text>
<line x1="83.90" y1="386.01" x2="86.50" y2="386.01" stroke="#000" stroke-width="1.0" />
<line x1="83.90" y1="381.18" x2="86.50" y2="381.18" stroke="#000" stroke-width="1.0" />
<line x1="83.90" y1="376.34" x2="86.50" y2="376.34" stroke="#000" stroke-width="1.0" />
<line x1="82.50" y1="371.50" x2="86.50" y2="371.50" stroke="#000" stroke-width="1.1" />
<text x="81.50" y="374.20" font-size="7.7" font-weight="normal" font-style="normal" text-anchor="end" fill="#111" font-family='"Liberation Sans", sans-serif' stroke="#111" stroke-width="0.22" >100</text>
<line x1="83.90" y1="366.66" x2="86.50" y2="366.66" stroke="#000" stroke-width="1.0" />
<line x1="83.90" y1="361.82" x2="86.50" y2="361.82" stroke="#000" stroke-width="1.0" />
<line x1="83.90" y1="356.99" x2="86.50" y2="356.99" stroke="#000" stroke-width="1.0" />
<line x1="82.50" y1="352.15" x2="86.50" y2="352.15" stroke="#000" stroke-width="1.1" />
<text x="81.50" y="354.85" font-size="7.7" font-weight="normal" font-style="normal" text-anchor="end" fill="#111" font-family='"Liberation Sans", sans-serif' stroke="#111" stroke-width="0.22" >150</text>
<line x1="83.90" y1="347.31" x2="86.50" y2="347.31" stroke="#000" stroke-width="1.0" />
<line x1="83.90" y1="342.48" x2="86.50" y2="342.48" stroke="#000" stroke-width="1.0" />
<line x1="83.90" y1="337.64" x2="86.50" y2="337.64" stroke="#000" stroke-width="1.0" />
<line x1="82.50" y1="332.80" x2="86.50" y2="332.80" stroke="#000" stroke-width="1.1" />
<text x="81.50" y="335.50" font-size="7.7" font-weight="normal" font-style="normal" text-anchor="end" fill="#111" font-family='"Liberation Sans", sans-serif' stroke="#111" stroke-width="0.22" >200</text>
<line x1="86.50" y1="410.20" x2="86.50" y2="413.40" stroke="#000" stroke-width="1.0" />
<line x1="98.11" y1="410.20" x2="98.11" y2="412.40" stroke="#000" stroke-width="1.0" />
<line x1="104.90" y1="410.20" x2="104.90" y2="412.40" stroke="#000" stroke-width="1.0" />
<line x1="109.72" y1="410.20" x2="109.72" y2="412.40" stroke="#000" stroke-width="1.0" />
<line x1="113.46" y1="410.20" x2="113.46" y2="412.40" stroke="#000" stroke-width="1.0" />
<line x1="116.51" y1="410.20" x2="116.51" y2="412.40" stroke="#000" stroke-width="1.0" />
<line x1="119.09" y1="410.20" x2="119.09" y2="412.40" stroke="#000" stroke-width="1.0" />
<line x1="121.33" y1="410.20" x2="121.33" y2="412.40" stroke="#000" stroke-width="1.0" />
<line x1="123.30" y1="410.20" x2="123.30" y2="412.40" stroke="#000" stroke-width="1.0" />
<line x1="125.07" y1="410.20" x2="125.07" y2="413.40" stroke="#000" stroke-width="1.0" />
<line x1="136.68" y1="410.20" x2="136.68" y2="412.40" stroke="#000" stroke-width="1.0" />
<line x1="143.47" y1="410.20" x2="143.47" y2="412.40" stroke="#000" stroke-width="1.0" />
<line x1="148.29" y1="410.20" x2="148.29" y2="412.40" stroke="#000" stroke-width="1.0" />
<line x1="152.02" y1="410.20" x2="152.02" y2="412.40" stroke="#000" stroke-width="1.0" />
<line x1="155.08" y1="410.20" x2="155.08" y2="412.40" stroke="#000" stroke-width="1.0" />
<line x1="157.66" y1="410.20" x2="157.66" y2="412.40" stroke="#000" stroke-width="1.0" />
<line x1="159.90" y1="410.20" x2="159.90" y2="412.40" stroke="#000" stroke-width="1.0" />
<line x1="161.87" y1="410.20" x2="161.87" y2="412.40" stroke="#000" stroke-width="1.0" />
<line x1="163.63" y1="410.20" x2="163.63" y2="413.40" stroke="#000" stroke-width="1.0" />
<line x1="175.24" y1="410.20" x2="175.24" y2="412.40" stroke="#000" stroke-width="1.0" />
<line x1="182.03" y1="410.20" x2="182.03" y2="412.40" stroke="#000" stroke-width="1.0" />
<line x1="186.85" y1="410.20" x2="186.85" y2="412.40" stroke="#000" stroke-width="1.0" />
<line x1="190.59" y1="410.20" x2="190.59" y2="412.40" stroke="#000" stroke-width="1.0" />
<line x1="193.64" y1="410.20" x2="193.64" y2="412.40" stroke="#000" stroke-width="1.0" />
<line x1="196.23" y1="410.20" x2="196.23" y2="412.40" stroke="#000" stroke-width="1.0" />
<line x1="198.46" y1="410.20" x2="198.46" y2="412.40" stroke="#000" stroke-width="1.0" />
<line x1="200.44" y1="410.20" x2="200.44" y2="412.40" stroke="#000" stroke-width="1.0" />
<line x1="202.20" y1="410.20" x2="202.20" y2="413.40" stroke="#000" stroke-width="1.0" />
<text x="82.50" y="425.80" font-size="7.5" font-weight="normal" font-style="normal" text-anchor="middle" fill="#111" font-family='"Liberation Sans", sans-serif' stroke="#111" stroke-width="0.22" >10</text>
<text x="87.60" y="422.20" font-size="6.0" font-weight="normal" font-style="normal" text-anchor="middle" fill="#111" font-family='"Liberation Sans", sans-serif' stroke="#111" stroke-width="0.22" >2</text>
<text x="121.07" y="425.80" font-size="7.5" font-weight="normal" font-style="normal" text-anchor="middle" fill="#111" font-family='"Liberation Sans", sans-serif' stroke="#111" stroke-width="0.22" >10</text>
<text x="126.17" y="422.20" font-size="6.0" font-weight="normal" font-style="normal" text-anchor="middle" fill="#111" font-family='"Liberation Sans", sans-serif' stroke="#111" stroke-width="0.22" >3</text>
<text x="159.63" y="425.80" font-size="7.5" font-weight="normal" font-style="normal" text-anchor="middle" fill="#111" font-family='"Liberation Sans", sans-serif' stroke="#111" stroke-width="0.22" >10</text>
<text x="164.73" y="422.20" font-size="6.0" font-weight="normal" font-style="normal" text-anchor="middle" fill="#111" font-family='"Liberation Sans", sans-serif' stroke="#111" stroke-width="0.22" >4</text>
<text x="198.20" y="425.80" font-size="7.5" font-weight="normal" font-style="normal" text-anchor="middle" fill="#111" font-family='"Liberation Sans", sans-serif' stroke="#111" stroke-width="0.22" >10</text>
<text x="203.30" y="422.20" font-size="6.0" font-weight="normal" font-style="normal" text-anchor="middle" fill="#111" font-family='"Liberation Sans", sans-serif' stroke="#111" stroke-width="0.22" >5</text>
<line x1="87.70" y1="363.80" x2="200.20" y2="363.80" stroke="#000" stroke-width="2.1" />
<line x1="88.00" y1="359.10" x2="88.00" y2="368.50" stroke="#000" stroke-width="2.4" />
<line x1="200.10" y1="359.10" x2="200.10" y2="368.50" stroke="#000" stroke-width="2.4" />
<text x="193.30" y="344.10" font-size="9.3" font-weight="bold" font-style="normal" text-anchor="end" fill="#111" font-family='"Liberation Sans", sans-serif' stroke="#111" stroke-width="0.1" >MFI = 8700</text>
<text x="144.70" y="434.90" font-size="9.2" font-weight="bold" font-style="normal" text-anchor="middle" fill="#111" font-family='"Liberation Sans", sans-serif' stroke="#111" stroke-width="0.1" >FL4-H</text>
<text x="291.60" y="136.00" font-size="11" font-weight="bold" font-style="normal" text-anchor="start" fill="#000" font-family='"Liberation Sans", sans-serif' stroke="#000" stroke-width="0.1" >C</text>
<line x1="334.20" y1="132.90" x2="334.20" y2="249.70" stroke="#222" stroke-width="1.8" />
<line x1="333.30" y1="248.80" x2="507.90" y2="248.80" stroke="#222" stroke-width="1.8" />
<line x1="331.00" y1="248.80" x2="334.20" y2="248.80" stroke="#222" stroke-width="1.2" />
<text x="330.60" y="251.80" font-size="8.4" font-weight="bold" font-style="normal" text-anchor="end" fill="#222" font-family='"Liberation Sans", sans-serif' stroke="#222" stroke-width="0.1" >0</text>
<line x1="331.00" y1="225.68" x2="334.20" y2="225.68" stroke="#222" stroke-width="1.2" />
<text x="330.60" y="228.68" font-size="8.4" font-weight="bold" font-style="normal" text-anchor="end" fill="#222" font-family='"Liberation Sans", sans-serif' stroke="#222" stroke-width="0.1" >20</text>
<line x1="331.00" y1="202.56" x2="334.20" y2="202.56" stroke="#222" stroke-width="1.2" />
<text x="330.60" y="205.56" font-size="8.4" font-weight="bold" font-style="normal" text-anchor="end" fill="#222" font-family='"Liberation Sans", sans-serif' stroke="#222" stroke-width="0.1" >40</text>
<line x1="331.00" y1="179.44" x2="334.20" y2="179.44" stroke="#222" stroke-width="1.2" />
<text x="330.60" y="182.44" font-size="8.4" font-weight="bold" font-style="normal" text-anchor="end" fill="#222" font-family='"Liberation Sans", sans-serif' stroke="#222" stroke-width="0.1" >60</text>
<line x1="331.00" y1="156.32" x2="334.20" y2="156.32" stroke="#222" stroke-width="1.2" />
<text x="330.60" y="159.32" font-size="8.4" font-weight="bold" font-style="normal" text-anchor="end" fill="#222" font-family='"Liberation Sans", sans-serif' stroke="#222" stroke-width="0.1" >80</text>
<line x1="331.00" y1="133.20" x2="334.20" y2="133.20" stroke="#222" stroke-width="1.2" />
<text x="330.60" y="136.20" font-size="8.4" font-weight="bold" font-style="normal" text-anchor="end" fill="#222" font-family='"Liberation Sans", sans-serif' stroke="#222" stroke-width="0.1" >100</text>
<line x1="363.58" y1="248.80" x2="363.58" y2="252.20" stroke="#222" stroke-width="1.2" />
<text x="363.58" y="260.80" font-size="8.4" font-weight="bold" font-style="normal" text-anchor="middle" fill="#222" font-family='"Liberation Sans", sans-serif' stroke="#222" stroke-width="0.1" >-10</text>
<line x1="421.24" y1="248.80" x2="421.24" y2="252.20" stroke="#222" stroke-width="1.2" />
<text x="421.24" y="260.80" font-size="8.4" font-weight="bold" font-style="normal" text-anchor="middle" fill="#222" font-family='"Liberation Sans", sans-serif' stroke="#222" stroke-width="0.1" >-8</text>
<line x1="478.90" y1="248.80" x2="478.90" y2="252.20" stroke="#222" stroke-width="1.2" />
<text x="478.90" y="260.80" font-size="8.4" font-weight="bold" font-style="normal" text-anchor="middle" fill="#222" font-family='"Liberation Sans", sans-serif' stroke="#222" stroke-width="0.1" >-6</text>
<text x="421.60" y="273.30" font-size="11.1" font-weight="normal" font-style="normal" text-anchor="middle" fill="#222" font-family='"Liberation Sans", sans-serif' stroke="#222" stroke-width="0.22" >Log WT-1 DimerX</text>
<text x="0.00" y="0.00" font-size="11.2" font-weight="normal" font-style="normal" text-anchor="middle" fill="#222" font-family='"Liberation Sans", sans-serif' stroke="#222" stroke-width="0.22" transform="translate(310.2,188.2) rotate(-90)">% Maximal Binding</text>
<polyline points="392.41,248.45 418.36,248.80 427.01,248.80 435.65,248.80 444.30,248.80 452.95,248.80 461.60,248.80 470.25,245.56 478.90,239.32" fill="none" stroke="#7c7c7c" stroke-width="1.3" stroke-dasharray="2.6,2"/>
<polyline points="392.41,247.88 418.36,238.63 427.01,229.15 435.65,211.23 444.30,195.05 452.95,168.46 461.60,133.20 470.25,133.20 478.90,133.20" fill="none" stroke="#000" stroke-width="1.5" />
<polyline points="392.41,248.22 418.36,246.26 427.01,242.44 435.65,233.77 444.30,219.90 452.95,178.86 461.60,133.20 470.25,133.20 478.90,133.20" fill="none" stroke="#000" stroke-width="1.4" stroke-dasharray="3,2"/>
<circle cx="392.41" cy="248.45" r="2.5" fill="#7c7c7c"/>
<circle cx="418.36" cy="248.80" r="2.5" fill="#7c7c7c"/>
<circle cx="427.01" cy="248.80" r="2.5" fill="#7c7c7c"/>
<circle cx="435.65" cy="248.80" r="2.5" fill="#7c7c7c"/>
<circle cx="444.30" cy="248.80" r="2.5" fill="#7c7c7c"/>
<circle cx="452.95" cy="248.80" r="2.5" fill="#7c7c7c"/>
<circle cx="461.60" cy="248.80" r="2.5" fill="#7c7c7c"/>
<circle cx="470.25" cy="245.56" r="2.5" fill="#7c7c7c"/>
<circle cx="478.90" cy="239.32" r="2.5" fill="#7c7c7c"/>
<path d="M390.01,250.04 L394.81,250.04 L392.41,245.72 Z" fill="#000"/>
<path d="M415.96,240.79 L420.76,240.79 L418.36,236.47 Z" fill="#000"/>
<path d="M424.61,231.31 L429.41,231.31 L427.01,226.99 Z" fill="#000"/>
<path d="M433.25,213.39 L438.05,213.39 L435.65,209.07 Z" fill="#000"/>
<path d="M441.90,197.21 L446.70,197.21 L444.30,192.89 Z" fill="#000"/>
<path d="M450.55,170.62 L455.35,170.62 L452.95,166.30 Z" fill="#000"/>
<path d="M459.20,135.36 L464.00,135.36 L461.60,131.04 Z" fill="#000"/>
<path d="M467.85,135.36 L472.65,135.36 L470.25,131.04 Z" fill="#000"/>
<path d="M476.50,135.36 L481.30,135.36 L478.90,131.04 Z" fill="#000"/>
<rect x="390.21" y="246.02" width="4.4" height="4.4" fill="#000"/>
<rect x="416.16" y="244.06" width="4.4" height="4.4" fill="#000"/>
<rect x="424.81" y="240.24" width="4.4" height="4.4" fill="#000"/>
<rect x="433.45" y="231.57" width="4.4" height="4.4" fill="#000"/>
<rect x="442.10" y="217.70" width="4.4" height="4.4" fill="#000"/>
<rect x="450.75" y="176.66" width="4.4" height="4.4" fill="#000"/>
<rect x="459.40" y="131.00" width="4.4" height="4.4" fill="#000"/>
<rect x="468.05" y="131.00" width="4.4" height="4.4" fill="#000"/>
<rect x="476.70" y="131.00" width="4.4" height="4.4" fill="#000"/>
<line x1="340.30" y1="138.50" x2="343.80" y2="138.50" stroke="#7c7c7c" stroke-width="1.3" />
<line x1="351.60" y1="138.50" x2="353.00" y2="138.50" stroke="#7c7c7c" stroke-width="1.3" />
<circle cx="347.20" cy="138.50" r="2.5" fill="#7c7c7c"/>
<text x="359.40" y="141.30" font-size="9.0" font-weight="normal" font-style="normal" text-anchor="start" fill="#222" font-family='"Liberation Sans", sans-serif' stroke="#222" stroke-width="0.22" >3D CD8-</text>
<line x1="340.30" y1="151.40" x2="343.80" y2="151.40" stroke="#000" stroke-width="1.5" />
<line x1="351.80" y1="151.40" x2="353.00" y2="151.40" stroke="#000" stroke-width="1.5" />
<rect x="344.80" y="149.00" width="4.8" height="4.8" fill="#000"/>
<text x="359.40" y="154.20" font-size="9.0" font-weight="normal" font-style="normal" text-anchor="start" fill="#222" font-family='"Liberation Sans", sans-serif' stroke="#222" stroke-width="0.22" >NYH CD8-</text>
<line x1="340.30" y1="164.60" x2="353.00" y2="164.60" stroke="#000" stroke-width="1.5" />
<path d="M344.70,166.55 L349.70,166.55 L347.20,162.05 Z" fill="#000"/>
<text x="359.40" y="167.40" font-size="9.0" font-weight="normal" font-style="normal" text-anchor="start" fill="#222" font-family='"Liberation Sans", sans-serif' stroke="#222" stroke-width="0.22" >PYY CD8-</text>
<text x="292.00" y="290.80" font-size="11" font-weight="bold" font-style="normal" text-anchor="start" fill="#000" font-family='"Liberation Sans", sans-serif' stroke="#000" stroke-width="0.1" >D</text>
<line x1="334.10" y1="300.40" x2="334.10" y2="417.40" stroke="#222" stroke-width="1.8" />
<line x1="333.20" y1="416.50" x2="508.30" y2="416.50" stroke="#222" stroke-width="1.8" />
<line x1="330.90" y1="416.50" x2="334.10" y2="416.50" stroke="#222" stroke-width="1.2" />
<text x="330.50" y="419.50" font-size="8.4" font-weight="bold" font-style="normal" text-anchor="end" fill="#222" font-family='"Liberation Sans", sans-serif' stroke="#222" stroke-width="0.1" >0.0</text>
<line x1="330.90" y1="393.34" x2="334.10" y2="393.34" stroke="#222" stroke-width="1.2" />
<text x="330.50" y="396.34" font-size="8.4" font-weight="bold" font-style="normal" text-anchor="end" fill="#222" font-family='"Liberation Sans", sans-serif' stroke="#222" stroke-width="0.1" >0.1</text>
<line x1="330.90" y1="370.18" x2="334.10" y2="370.18" stroke="#222" stroke-width="1.2" />
<text x="330.50" y="373.18" font-size="8.4" font-weight="bold" font-style="normal" text-anchor="end" fill="#222" font-family='"Liberation Sans", sans-serif' stroke="#222" stroke-width="0.1" >0.2</text>
<line x1="330.90" y1="347.02" x2="334.10" y2="347.02" stroke="#222" stroke-width="1.2" />
<text x="330.50" y="350.02" font-size="8.4" font-weight="bold" font-style="normal" text-anchor="end" fill="#222" font-family='"Liberation Sans", sans-serif' stroke="#222" stroke-width="0.1" >0.3</text>
<line x1="330.90" y1="323.86" x2="334.10" y2="323.86" stroke="#222" stroke-width="1.2" />
<text x="330.50" y="326.86" font-size="8.4" font-weight="bold" font-style="normal" text-anchor="end" fill="#222" font-family='"Liberation Sans", sans-serif' stroke="#222" stroke-width="0.1" >0.4</text>
<line x1="330.90" y1="300.70" x2="334.10" y2="300.70" stroke="#222" stroke-width="1.2" />
<text x="330.50" y="303.70" font-size="8.4" font-weight="bold" font-style="normal" text-anchor="end" fill="#222" font-family='"Liberation Sans", sans-serif' stroke="#222" stroke-width="0.1" >0.5</text>
<line x1="363.40" y1="416.50" x2="363.40" y2="419.90" stroke="#222" stroke-width="1.2" />
<text x="363.40" y="428.70" font-size="8.4" font-weight="bold" font-style="normal" text-anchor="middle" fill="#222" font-family='"Liberation Sans", sans-serif' stroke="#222" stroke-width="0.1" >-8</text>
<line x1="421.60" y1="416.50" x2="421.60" y2="419.90" stroke="#222" stroke-width="1.2" />
<text x="421.60" y="428.70" font-size="8.4" font-weight="bold" font-style="normal" text-anchor="middle" fill="#222" font-family='"Liberation Sans", sans-serif' stroke="#222" stroke-width="0.1" >-6</text>
<line x1="479.80" y1="416.50" x2="479.80" y2="419.90" stroke="#222" stroke-width="1.2" />
<text x="479.80" y="428.70" font-size="8.4" font-weight="bold" font-style="normal" text-anchor="middle" fill="#222" font-family='"Liberation Sans", sans-serif' stroke="#222" stroke-width="0.1" >-4</text>
<text x="422.10" y="440.30" font-size="11.0" font-weight="normal" font-style="normal" text-anchor="middle" fill="#222" font-family='"Liberation Sans", sans-serif' stroke="#222" stroke-width="0.22" >Log WT-1 peptide</text>
<text x="0.00" y="0.00" font-size="11.2" font-weight="normal" font-style="normal" text-anchor="middle" fill="#222" font-family='"Liberation Sans", sans-serif' stroke="#222" stroke-width="0.22" transform="translate(310.3,358.0) rotate(-90)">IL-2 Release (Abs. 450 nM)</text>
<polyline points="453.61,413.35 454.05,413.22 454.48,413.08 454.92,412.94 455.36,412.79 455.79,412.63 456.23,412.47 456.67,412.30 457.10,412.13 457.54,411.95 457.98,411.76 458.41,411.56 458.85,411.36 459.28,411.15 459.72,410.93 460.16,410.70 460.59,410.46 461.03,410.21 461.47,409.95 461.90,409.68 462.34,409.40 462.78,409.11 463.21,408.81 463.65,408.49 464.09,408.17 464.52,407.83 464.96,407.47 465.40,407.11 465.83,406.73 466.27,406.33 466.71,405.92 467.14,405.49 467.58,405.05 468.01,404.59 468.45,404.12 468.89,403.62 469.32,403.11 469.76,402.57 470.20,402.02 470.63,401.45 471.07,400.86 471.51,400.24 471.94,399.60 472.38,398.94 472.82,398.26 473.25,397.55 473.69,396.81 474.13,396.05 474.56,395.27 475.00,394.46 475.44,393.61 475.87,392.75 476.31,391.85 476.74,390.92 477.18,389.96 477.62,388.97 478.05,387.95 478.49,386.90 478.93,385.81 479.36,384.69 479.80,383.53" fill="none" stroke="#7c7c7c" stroke-width="1.3" stroke-dasharray="2.6,2"/>
<polyline points="392.50,413.66 393.96,413.34 395.41,412.97 396.87,412.57 398.32,412.13 399.78,411.64 401.23,411.09 402.69,410.49 404.14,409.83 405.60,409.11 407.05,408.31 408.50,407.44 409.96,406.49 411.42,405.46 412.87,404.33 414.33,403.11 415.78,401.80 417.24,400.38 418.69,398.87 420.15,397.25 421.60,395.53 423.06,393.71 424.51,391.80 425.97,389.80 427.42,387.72 428.88,385.57 430.33,383.35 431.79,381.08 433.24,378.78 434.70,376.45 436.15,374.11 437.61,371.78 439.06,369.46 440.52,367.19 441.97,364.96 443.43,362.79 444.88,360.69 446.34,358.68 447.79,356.75 449.25,354.91 450.70,353.17 452.16,351.54 453.61,350.00 455.07,348.57 456.52,347.23 457.98,345.99 459.43,344.85 460.88,343.80 462.34,342.83 463.80,341.94 465.25,341.13 466.71,340.39 468.16,339.72 469.62,339.11 471.07,338.56 472.52,338.05 473.98,337.60 475.44,337.19 476.89,336.82 478.35,336.49 479.80,336.19" fill="none" stroke="#000" stroke-width="1.5" />
<polyline points="450.70,415.37 451.19,415.31 451.67,415.24 452.16,415.17 452.64,415.10 453.12,415.03 453.61,414.95 454.10,414.86 454.58,414.78 455.07,414.69 455.55,414.59 456.04,414.49 456.52,414.39 457.00,414.28 457.49,414.17 457.98,414.05 458.46,413.93 458.94,413.80 459.43,413.67 459.92,413.53 460.40,413.39 460.88,413.25 461.37,413.09 461.86,412.94 462.34,412.77 462.83,412.61 463.31,412.43 463.80,412.25 464.28,412.07 464.76,411.88 465.25,411.69 465.74,411.49 466.22,411.29 466.71,411.09 467.19,410.88 467.68,410.66 468.16,410.45 468.65,410.23 469.13,410.01 469.62,409.78 470.10,409.55 470.59,409.32 471.07,409.09 471.56,408.86 472.04,408.63 472.52,408.39 473.01,408.16 473.50,407.93 473.98,407.70 474.47,407.46 474.95,407.24 475.44,407.01 475.92,406.78 476.40,406.56 476.89,406.34 477.38,406.12 477.86,405.91 478.35,405.70 478.83,405.50 479.32,405.29 479.80,405.10" fill="none" stroke="#000" stroke-width="1.5" />
<circle cx="392.50" cy="416.50" r="2.5" fill="#7c7c7c"/>
<circle cx="401.23" cy="416.50" r="2.5" fill="#7c7c7c"/>
<circle cx="409.96" cy="416.50" r="2.5" fill="#7c7c7c"/>
<circle cx="418.69" cy="416.50" r="2.5" fill="#7c7c7c"/>
<circle cx="427.42" cy="416.50" r="2.5" fill="#7c7c7c"/>
<circle cx="436.15" cy="416.50" r="2.5" fill="#7c7c7c"/>
<circle cx="444.88" cy="416.50" r="2.5" fill="#7c7c7c"/>
<circle cx="453.61" cy="416.50" r="2.5" fill="#7c7c7c"/>
<circle cx="462.34" cy="416.50" r="2.5" fill="#7c7c7c"/>
<circle cx="471.07" cy="402.14" r="2.5" fill="#7c7c7c"/>
<circle cx="479.80" cy="383.38" r="2.5" fill="#7c7c7c"/>
<rect x="390.30" y="414.30" width="4.4" height="4.4" fill="#000"/>
<rect x="399.03" y="414.30" width="4.4" height="4.4" fill="#000"/>
<rect x="407.76" y="414.30" width="4.4" height="4.4" fill="#000"/>
<rect x="416.49" y="414.30" width="4.4" height="4.4" fill="#000"/>
<rect x="425.22" y="414.30" width="4.4" height="4.4" fill="#000"/>
<rect x="433.95" y="414.30" width="4.4" height="4.4" fill="#000"/>
<rect x="442.68" y="414.30" width="4.4" height="4.4" fill="#000"/>
<rect x="451.41" y="414.30" width="4.4" height="4.4" fill="#000"/>
<rect x="460.14" y="410.36" width="4.4" height="4.4" fill="#000"/>
<rect x="468.87" y="405.73" width="4.4" height="4.4" fill="#000"/>
<rect x="477.60" y="401.56" width="4.4" height="4.4" fill="#000"/>
<path d="M390.10,418.66 L394.90,418.66 L392.50,414.34 Z" fill="#000"/>
<path d="M398.83,418.66 L403.63,418.66 L401.23,414.34 Z" fill="#000"/>
<path d="M407.56,413.56 L412.36,413.56 L409.96,409.24 Z" fill="#000"/>
<path d="M416.29,400.83 L421.09,400.83 L418.69,396.51 Z" fill="#000"/>
<path d="M425.02,386.93 L429.82,386.93 L427.42,382.61 Z" fill="#000"/>
<path d="M433.75,382.53 L438.55,382.53 L436.15,378.21 Z" fill="#000"/>
<path d="M442.48,367.48 L447.28,367.48 L444.88,363.16 Z" fill="#000"/>
<path d="M451.21,349.87 L456.01,349.87 L453.61,345.55 Z" fill="#000"/>
<path d="M459.94,351.50 L464.74,351.50 L462.34,347.18 Z" fill="#000"/>
<path d="M468.67,326.02 L473.47,326.02 L471.07,321.70 Z" fill="#000"/>
<path d="M477.40,346.17 L482.20,346.17 L479.80,341.85 Z" fill="#000"/>
<line x1="344.00" y1="306.70" x2="346.20" y2="306.70" stroke="#7c7c7c" stroke-width="1.3" />
<line x1="354.00" y1="306.70" x2="356.40" y2="306.70" stroke="#7c7c7c" stroke-width="1.3" />
<circle cx="349.60" cy="306.70" r="2.5" fill="#7c7c7c"/>
<text x="363.40" y="309.80" font-size="9.0" font-weight="normal" font-style="normal" text-anchor="start" fill="#222" font-family='"Liberation Sans", sans-serif' stroke="#222" stroke-width="0.22" >3D CD8-</text>
<line x1="344.00" y1="321.90" x2="356.40" y2="321.90" stroke="#000" stroke-width="1.5" />
<rect x="347.60" y="319.90" width="4.0" height="4.0" fill="#000"/>
<text x="363.40" y="325.00" font-size="9.0" font-weight="normal" font-style="normal" text-anchor="start" fill="#222" font-family='"Liberation Sans", sans-serif' stroke="#222" stroke-width="0.22" >NYH CD8-</text>
<line x1="344.00" y1="337.40" x2="356.40" y2="337.40" stroke="#000" stroke-width="1.5" />
<path d="M347.10,339.35 L352.10,339.35 L349.60,334.85 Z" fill="#000"/>
<text x="363.40" y="340.50" font-size="9.0" font-weight="normal" font-style="normal" text-anchor="start" fill="#222" font-family='"Liberation Sans", sans-serif' stroke="#222" stroke-width="0.22" >PYY CD8-</text>
</svg>
</body></html>
